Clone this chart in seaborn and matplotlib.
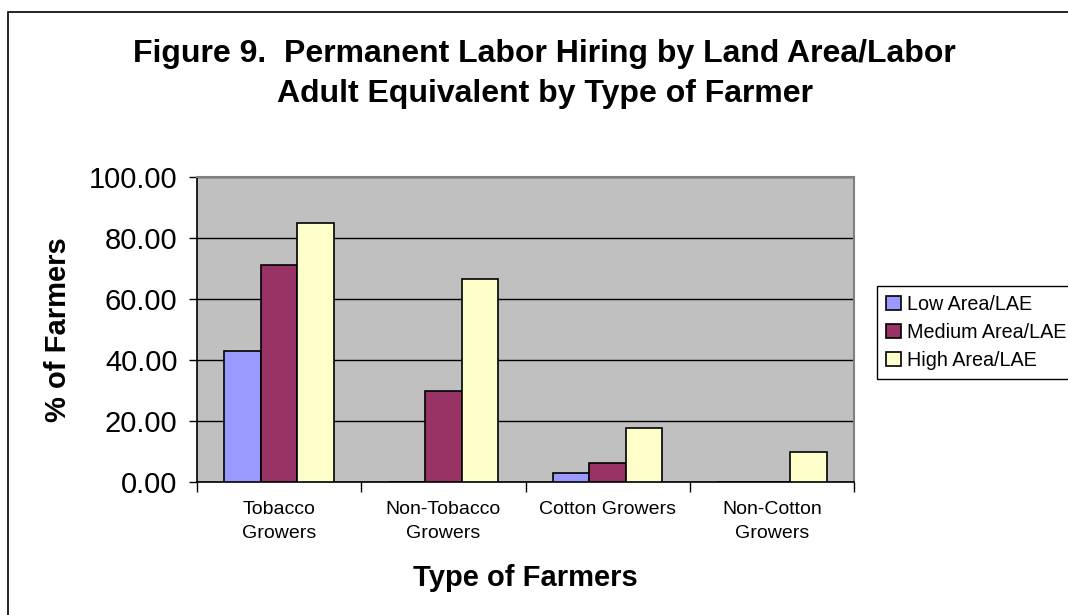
import matplotlib
matplotlib.use("Agg")
import matplotlib.pyplot as plt
from matplotlib.patches import Rectangle
import seaborn as sns
import pandas as pd
import numpy as np

categories = ["Tobacco\nGrowers", "Non-Tobacco\nGrowers", "Cotton Growers", "Non-Cotton\nGrowers"]
series = ["Low Area/LAE", "Medium Area/LAE", "High Area/LAE"]
low_vals = [43.0, 0.0, 2.8, 0.0]
medium_vals = [71.0, 29.8, 6.3, 0.0]
high_vals = [85.0, 66.7, 17.8, 9.7]
colors = ["#9999FF", "#993366", "#FFFFCC"]
yticks = [0, 20, 40, 60, 80, 100]

rows = []
for s, vals in zip(series, [low_vals, medium_vals, high_vals]):
    for c, v in zip(categories, vals):
        rows.append({"Type": c, "Series": s, "Value": v})
df = pd.DataFrame(rows)

sns.set_style("white")
plt.rcParams["font.family"] = ["Liberation Sans", "DejaVu Sans"]
plt.rcParams["text.color"] = "black"
plt.rcParams["axes.labelcolor"] = "black"
plt.rcParams["xtick.color"] = "black"
plt.rcParams["ytick.color"] = "black"

fig = plt.figure(figsize=(10.68, 6.15), dpi=100)
ax = fig.add_axes([197/1068, 1-482/615, (854-197)/1068, (482-177)/615])

sns.barplot(data=df, x="Type", y="Value", hue="Series", order=categories,
            hue_order=series, palette=colors, width=2/3, edgecolor="black",
            linewidth=1.2, saturation=1, ax=ax, legend=True, zorder=3)

ax.set_facecolor("#C0C0C0")
ax.set_ylim(0, 100)
ax.set_xlim(-0.5, 3.5)
ax.set_yticks(yticks)
ax.set_yticklabels([f"{v:.2f}" for v in yticks], fontsize=21, color="black")
ax.yaxis.grid(True, color="black", linewidth=1, zorder=1)
ax.set_axisbelow(True)
ax.tick_params(axis="y", direction="out", length=6, width=1, color="black", pad=8, left=True)
ax.set_xticks(range(len(categories)))
ax.set_xticklabels(categories, fontsize=14, linespacing=1.5, color="black")
ax.tick_params(axis="x", which="major", length=0, pad=14)
ax.set_xticks(np.arange(-0.5, 4.0, 1.0), minor=True)
ax.tick_params(axis="x", which="minor", direction="out", length=7, width=1, color="black", bottom=True)

for side in ["left", "bottom"]:
    ax.spines[side].set_color("black")
    ax.spines[side].set_linewidth(1.2)
for side in ["top", "right"]:
    ax.spines[side].set_visible(True)
    ax.spines[side].set_color("#808080")
    ax.spines[side].set_linewidth(1.5)

ax.set_ylabel("% of Farmers", fontsize=21, fontweight="bold", labelpad=12, color="black")
ax.set_xlabel("Type of Farmers", fontsize=21, fontweight="bold", labelpad=16, color="black")

handles, labels = ax.get_legend_handles_labels()
leg = ax.legend(handles, labels, loc="upper left", bbox_to_anchor=(877/1068, 1-286/615),
          bbox_transform=fig.transFigure, borderaxespad=0, fontsize=14.2,
          frameon=True, fancybox=False, edgecolor="black", framealpha=1,
          handlelength=0.75, handleheight=0.75, handletextpad=0.3,
          labelspacing=0.45, borderpad=0.45)
leg.get_frame().set_linewidth(1.0)
for t in leg.get_texts():
    t.set_color("black")

fig.text(0.51, 1-74/615, "Figure 9.  Permanent Labor Hiring by Land Area/Labor\nAdult Equivalent by Type of Farmer",
         ha="center", va="center", fontsize=23, fontweight="bold", linespacing=1.42, color="black")

fig.patches.append(Rectangle((8/1068, -0.05), 1.1, 1.05 - 12/615, transform=fig.transFigure,
                             fill=False, edgecolor="black", linewidth=1.2))

fig.savefig("out.png", dpi=100, facecolor="white")
